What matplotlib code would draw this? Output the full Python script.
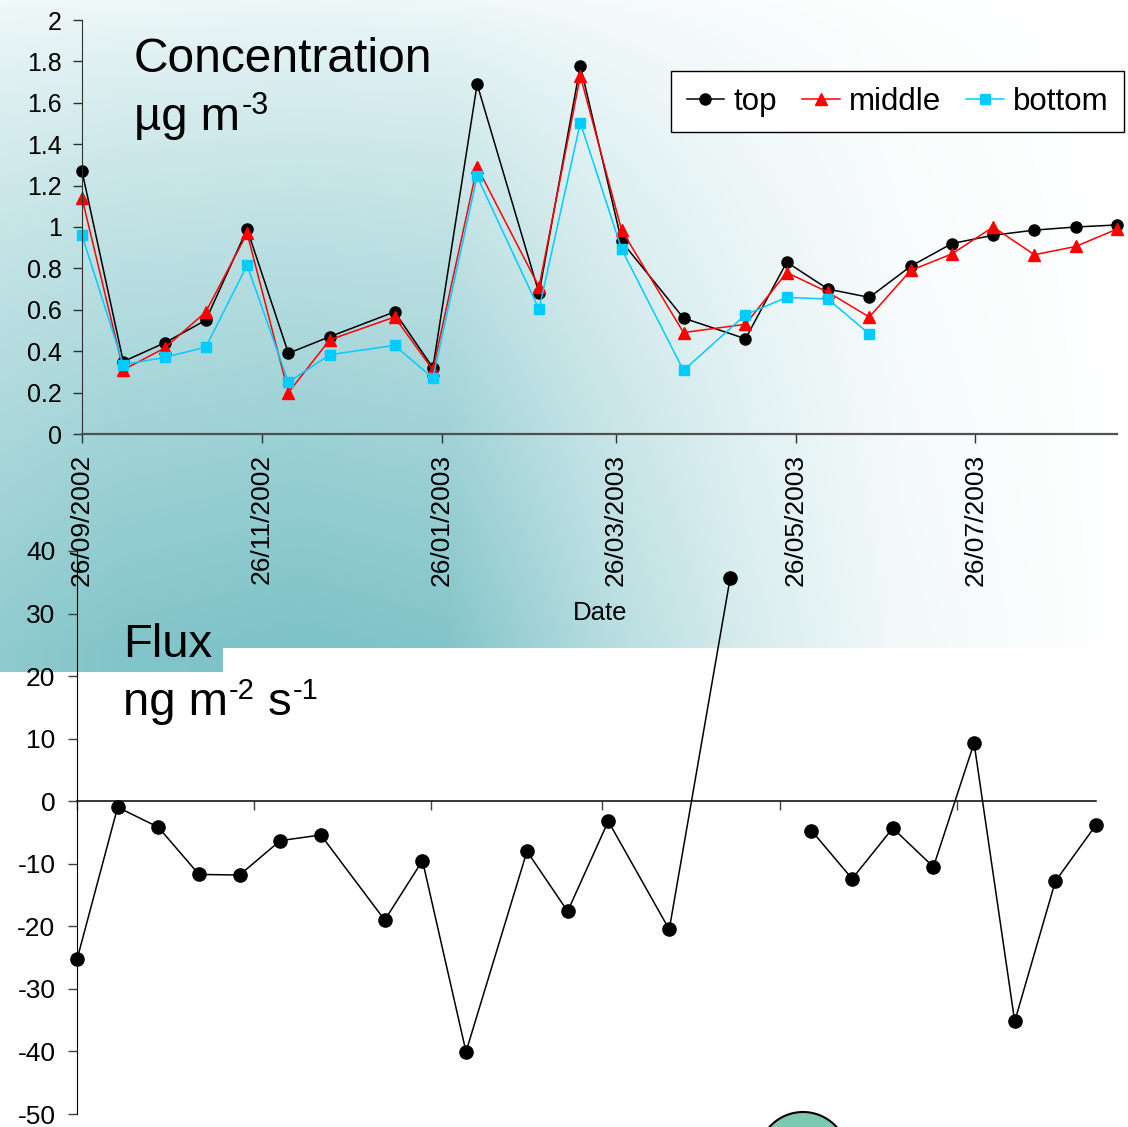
import numpy as np
import matplotlib
matplotlib.use('Agg')
import matplotlib.pyplot as plt
from matplotlib.patches import Circle
import datetime as dt

plt.rcParams['font.family'] = ['Liberation Sans', 'DejaVu Sans']

# ---------------- data ----------------
dates = [dt.date(2002, 9, 26), dt.date(2002, 10, 10), dt.date(2002, 10, 24), dt.date(2002, 11, 7),
         dt.date(2002, 11, 21), dt.date(2002, 12, 5), dt.date(2002, 12, 19), dt.date(2003, 1, 10),
         dt.date(2003, 1, 23), dt.date(2003, 2, 7), dt.date(2003, 2, 28), dt.date(2003, 3, 14),
         dt.date(2003, 3, 28), dt.date(2003, 4, 18), dt.date(2003, 5, 9), dt.date(2003, 5, 23),
         dt.date(2003, 6, 6), dt.date(2003, 6, 20), dt.date(2003, 7, 4), dt.date(2003, 7, 18),
         dt.date(2003, 8, 1), dt.date(2003, 8, 15), dt.date(2003, 8, 29), dt.date(2003, 9, 12)]

conc_top = [1.27, 0.35, 0.44, 0.55, 0.99, 0.39, 0.47, 0.59, 0.32, 1.69, 0.68, 1.78,
            0.93, 0.56, 0.46, 0.83, 0.70, 0.66, 0.81, 0.92, 0.96, 0.985, 1.00, 1.01]
conc_middle = [1.14, 0.31, 0.415, 0.59, 0.97, 0.20, 0.455, 0.565, 0.31, 1.29, 0.71, 1.73,
               0.985, 0.49, 0.53, 0.78, 0.685, 0.565, 0.79, 0.87, 1.00, 0.866, 0.906, 0.99]
conc_bottom = [0.96, 0.335, 0.37, 0.42, 0.815, 0.25, 0.383, 0.428, 0.27, 1.244, 0.603, 1.504,
               0.893, 0.307, 0.576, 0.66, 0.652, 0.483] + [np.nan] * 6
series_labels = ['top', 'middle', 'bottom']

flux = [-25.3, -0.96, -4.15, -11.7, -11.8, -6.3, -5.4, -19.0, -9.5, -40.05, -8.0, -17.6,
        -3.2, -20.5, 35.7, np.nan, -4.7, -12.4, -4.3, -10.5, 9.3, -35.2, -12.8, -3.8]

conc_yticks = [0, 0.2, 0.4, 0.6, 0.8, 1.0, 1.2, 1.4, 1.6, 1.8, 2.0]
flux_yticks = [-50, -40, -30, -20, -10, 0, 10, 20, 30, 40]
xtick_dates = [dt.date(2002, 9, 26), dt.date(2002, 11, 26), dt.date(2003, 1, 26),
               dt.date(2003, 3, 26), dt.date(2003, 5, 26), dt.date(2003, 7, 26)]

# ---------------- figure ----------------
W, H = 1128, 1127
fig = plt.figure(figsize=(W / 100, H / 100), dpi=100)

# background gradient (decoration)
bg = fig.add_axes([0, 0, 1, 1], zorder=-10)
bg.set_xlim(0, W)
bg.set_ylim(H, 0)
bg.axis('off')
xx = np.arange(W) + 0.5
yy = np.arange(H) + 0.5
hx = np.interp(xx, [0, 120, 300, 450, 600, 750, 900, 1050, 1128],
               [0.85, 0.95, 1.0, 0.95, 0.58, 0.3, 0.1, 0.03, 0.0])
vy = 0.12 + 0.88 * np.clip(yy / 650, 0, 1) ** 0.8
d = vy[:, None] * hx[None, :]
mask = (yy[:, None] < 648) | ((yy[:, None] < 672) & (xx[None, :] < 223))
d = np.where(mask, d, 0.0)
teal = np.array([124, 194, 199]) / 255.0
img = 1 - d[..., None] * (1 - teal)
bg.imshow(img, extent=(0, W, H, 0), aspect='auto', interpolation='bilinear')
bg.add_patch(Circle((803, 1157), 45, facecolor='#7cc8b0', edgecolor='black', lw=1.5))


def px_axes(l, r, t, b):
    return fig.add_axes([l / W, 1 - b / H, (r - l) / W, (b - t) / H])


# ---------------- concentration ----------------
ax1 = px_axes(82, 1117, 20, 434)
ax1.patch.set_alpha(0)
ax1.plot(dates, conc_top, color='black', marker='o', ms=8, lw=1.1, label=series_labels[0], clip_on=False)
ax1.plot(dates, conc_middle, color='red', marker='^', ms=9, lw=1.1, label=series_labels[1], clip_on=False)
ax1.plot(dates, conc_bottom, color='#00CCFF', marker='s', ms=7, lw=1.1, label=series_labels[2], clip_on=False)
ax1.set_xlim(dates[0], dates[-1])
ax1.set_ylim(0, 2)
ax1.set_yticks(conc_yticks)
ax1.set_yticklabels([f'{v:g}' for v in conc_yticks])
ax1.set_xticks(xtick_dates)
ax1.set_xticklabels([x.strftime('%d/%m/%Y') for x in xtick_dates], rotation=90)
for s in ['top', 'right']:
    ax1.spines[s].set_visible(False)
ax1.spines['bottom'].set_color('#505050')
ax1.spines['bottom'].set_linewidth(1.6)
ax1.spines['left'].set_color('#303030')
ax1.spines['left'].set_linewidth(0.8)
ax1.tick_params(axis='y', labelsize=18, length=6.5, width=1.0, pad=8, color='#303030')
ax1.tick_params(axis='x', labelsize=19, length=6.5, width=1.0, pad=8, color='#303030')

leg = fig.legend(loc='upper left', bbox_to_anchor=(671 / W, 1 - 71 / H), bbox_transform=fig.transFigure,
                 borderaxespad=0, ncol=3, fontsize=22.5, handlelength=1.2, handletextpad=0.3,
                 columnspacing=0.8, borderpad=0.5, fancybox=False, edgecolor='black',
                 framealpha=1, facecolor='white')
leg.get_frame().set_linewidth(1.0)

# ---------------- flux ----------------
ax2 = px_axes(77, 1096, 551, 1114)
ax2.patch.set_alpha(0)
ax2.plot(dates, flux, color='black', marker='o', ms=9.5, lw=1.1, clip_on=False)
ax2.set_xlim(dates[0], dates[-1])
ax2.set_ylim(-50, 40)
ax2.set_yticks(flux_yticks)
ax2.set_yticklabels([f'{v:g}' for v in flux_yticks])
ax2.set_xticks(xtick_dates)
ax2.set_xticklabels([])
ax2.spines['top'].set_visible(False)
ax2.spines['right'].set_visible(False)
ax2.spines['bottom'].set_position(('data', 0))
ax2.spines['bottom'].set_linewidth(1.1)
ax2.spines['left'].set_linewidth(0.8)
ax2.tick_params(axis='y', labelsize=19, length=6.5, width=1.0, pad=9, color='#404040')
ax2.tick_params(axis='x', length=6.5, width=1.0, color='#404040')

# ---------------- texts ----------------
def ftext(x, y, s, **kw):
    return fig.text(x / W, 1 - y / H, s, **kw)


renderer = fig.canvas.get_renderer()


def after(t, gap, y, s, **kw):
    bb = t.get_window_extent(renderer)
    return fig.text((bb.x1 + gap) / W, 1 - y / H, s, **kw)


ftext(134, 72, 'Concentration', fontsize=34.5, va='baseline')
t = ftext(134, 130, 'µg m', fontsize=34, va='baseline')
after(t, 2, 114, '-3', fontsize=22, va='baseline')

ftext(123, 657, 'Flux', fontsize=34, va='baseline')
t = ftext(123, 715, 'ng m', fontsize=34, va='baseline')
t2 = after(t, 1, 699, '-2', fontsize=21, va='baseline')
t3 = after(t2, 0, 715, ' s', fontsize=34, va='baseline')
after(t3, 1, 699, '-1', fontsize=21, va='baseline')

ftext(600, 613, 'Date', fontsize=18.5, ha='center', va='center')

fig.savefig('out.png', dpi=100)
